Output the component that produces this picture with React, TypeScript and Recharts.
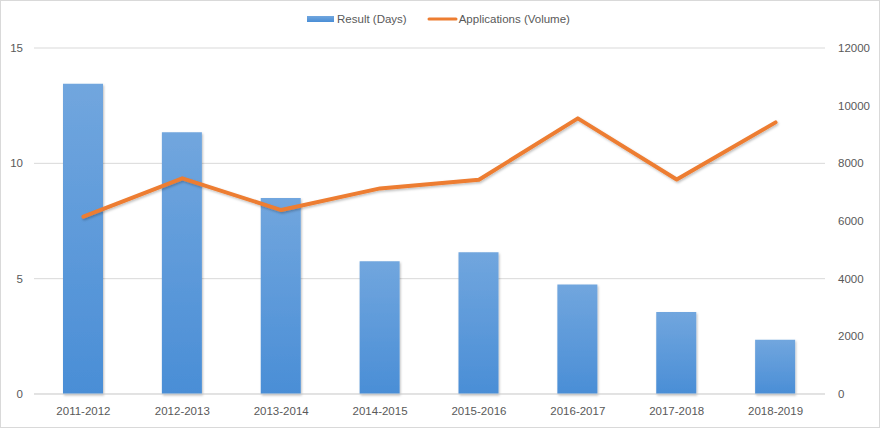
import React from 'react';
import { ComposedChart, Bar, Line, XAxis, YAxis, CartesianGrid, Legend } from 'recharts';

const categories = ['2011-2012', '2012-2013', '2013-2014', '2014-2015', '2015-2016', '2016-2017', '2017-2018', '2018-2019'];
const resultDays = [13.45, 11.35, 8.5, 5.75, 6.15, 4.75, 3.55, 2.35];
const applicationsVolume = [6150, 7480, 6380, 7130, 7430, 9560, 7440, 9420];
const leftTicks = [0, 5, 10, 15];
const rightTicks = [0, 2000, 4000, 6000, 8000, 10000, 12000];

const data = categories.map((c, i) => ({ name: c, result: resultDays[i], apps: applicationsVolume[i] }));

const FONT = '"Liberation Sans", Arial, sans-serif';
const TEXT = '#595959';

const LegendContent = () => (
  <div style={{ display: 'flex', justifyContent: 'center', alignItems: 'center', fontFamily: FONT, fontSize: 11.5, color: TEXT, height: 20 }}>
    <div style={{ display: 'flex', alignItems: 'center', marginRight: 19 }}>
      <svg width={30} height={10} style={{ marginRight: 3 }}>
        <defs>
          <linearGradient id="lgBar" x1="0" y1="0" x2="0" y2="1">
            <stop offset="0%" stopColor="#71a6de" />
            <stop offset="100%" stopColor="#4a8ed6" />
          </linearGradient>
        </defs>
        <rect x={3} y={2} width={27} height={6} fill="url(#lgBar)" />
      </svg>
      <span>Result (Days)</span>
    </div>
    <div style={{ display: 'flex', alignItems: 'center' }}>
      <svg width={32} height={10} style={{ marginRight: 1 }}>
        <line x1={3} y1={5} x2={30} y2={5} stroke="#ED7D31" strokeWidth={3} strokeLinecap="round" />
      </svg>
      <span>Applications (Volume)</span>
    </div>
  </div>
);

export default function App() {
  return (
    <div style={{ position: 'absolute', left: 0, top: 0, width: 880, height: 428, boxSizing: 'border-box', border: '1px solid #d9d9d9', background: '#fff' }}>
      <div style={{ position: 'absolute', left: -1, top: -1 }}>
        <ComposedChart width={880} height={428} data={data} margin={{ top: 48, right: 0, bottom: 0, left: 0 }}>
          <defs>
            <linearGradient id="barGrad" x1="0" y1="0" x2="0" y2="1">
              <stop offset="0%" stopColor="#71a6de" />
              <stop offset="100%" stopColor="#4a8ed6" />
            </linearGradient>
            <filter id="shadow" x="-20%" y="-20%" width="140%" height="140%">
              <feDropShadow dx="1" dy="1.5" stdDeviation="1.2" floodColor="#000" floodOpacity="0.25" />
            </filter>
          </defs>
          <CartesianGrid yAxisId="left" vertical={false} stroke="#d9d9d9" strokeWidth={1} />
          <XAxis
            dataKey="name"
            height={34}
            tickLine={false}
            axisLine={{ stroke: '#d9d9d9' }}
            tick={{ fill: TEXT, fontSize: 11.5, fontFamily: FONT }}
            tickMargin={7}
            interval={0}
          />
          <YAxis
            yAxisId="left"
            domain={[0, 15]}
            ticks={leftTicks}
            width={34}
            axisLine={false}
            tickLine={false}
            tickMargin={5}
            tick={{ fill: TEXT, fontSize: 11.5, fontFamily: FONT }}
          />
          <YAxis
            yAxisId="right"
            orientation="right"
            domain={[0, 12000]}
            ticks={rightTicks}
            width={55}
            axisLine={false}
            tickLine={false}
            tickMargin={7}
            tick={{ fill: TEXT, fontSize: 11.5, fontFamily: FONT, textAnchor: 'start' }}
          />
          <Legend verticalAlign="middle" wrapperStyle={{ top: 9, left: -3, width: 880 }} content={<LegendContent />} />
          <Bar yAxisId="left" dataKey="result" name="Result (Days)" fill="url(#barGrad)" barSize={40} filter="url(#shadow)" isAnimationActive={false} />
          <Line yAxisId="right" dataKey="apps" name="Applications (Volume)" type="linear" stroke="#ED7D31" strokeWidth={4} dot={false} activeDot={false} strokeLinejoin="round" strokeLinecap="round" filter="url(#shadow)" isAnimationActive={false} />
        </ComposedChart>
      </div>
    </div>
  );
}
